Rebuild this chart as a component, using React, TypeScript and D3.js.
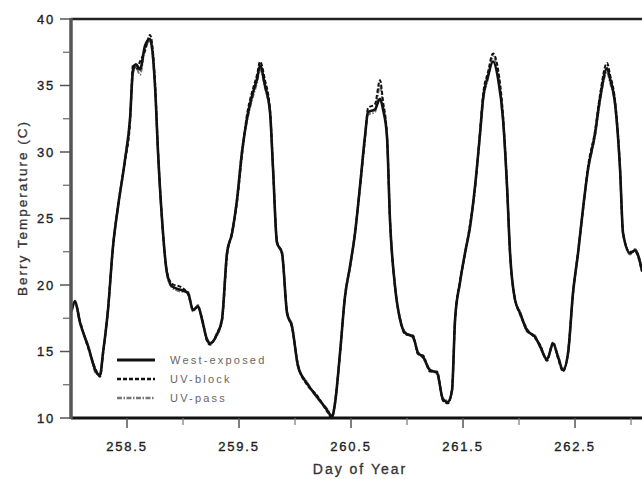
import React from "react";
import * as d3 from "d3";

// day of year (fractional) for each sample
const days = [
  258.006, 258.036, 258.08, 258.152, 258.229, 258.259, 258.286, 258.33, 258.375, 258.42,
  258.482, 258.527, 258.554, 258.58, 258.616, 258.661, 258.705, 258.75, 258.777, 258.813,
  258.857, 258.902, 258.991, 259.045, 259.089, 259.134, 259.17, 259.214, 259.241, 259.304,
  259.348, 259.393, 259.438, 259.482, 259.527, 259.571, 259.616, 259.661, 259.688, 259.732,
  259.777, 259.804, 259.839, 259.884, 259.929, 259.973, 260.027, 260.107, 260.196, 260.286,
  260.33, 260.357, 260.402, 260.446, 260.491, 260.536, 260.58, 260.625, 260.652, 260.714,
  260.759, 260.786, 260.821, 260.848, 260.893, 260.938, 260.982, 261.054, 261.098, 261.143,
  261.205, 261.268, 261.321, 261.366, 261.402, 261.429, 261.473, 261.518, 261.563, 261.607,
  261.652, 261.679, 261.723, 261.768, 261.813, 261.857, 261.893, 261.92, 261.964, 262.009,
  262.071, 262.143, 262.188, 262.25, 262.304, 262.348, 262.393, 262.438, 262.482, 262.527,
  262.571, 262.616, 262.679, 262.723, 262.786, 262.813, 262.857, 262.902, 262.929, 262.991,
  263.036, 263.098,
];

const westExposed = [
  18.1, 18.8, 17.2, 15.4, 13.4, 13.2, 14.9, 18.1, 22.9, 25.9,
  29.4, 32.5, 36.2, 36.6, 36.2, 38.0, 38.5, 35.0, 30.0, 24.9,
  20.9, 19.9, 19.6, 19.4, 18.1, 18.4, 17.4, 15.9, 15.6, 16.3,
  17.4, 22.4, 23.9, 26.4, 30.0, 32.5, 34.2, 35.5, 36.5, 35.0,
  33.0, 28.7, 23.2, 22.4, 17.9, 16.9, 13.9, 12.6, 11.6, 10.6,
  10.1, 11.1, 14.9, 19.1, 21.4, 23.9, 27.4, 31.2, 33.0, 33.2,
  34.0, 33.2, 31.2, 24.9, 19.9, 17.4, 16.4, 16.1, 14.9, 14.6,
  13.6, 13.4, 11.4, 11.2, 12.1, 17.4, 20.2, 22.4, 24.4, 27.4,
  31.4, 34.0, 35.7, 36.8, 35.5, 32.5, 27.4, 22.4, 18.9, 17.9,
  16.6, 16.1, 15.4, 14.4, 15.6, 14.6, 13.6, 14.9, 19.4, 22.4,
  25.7, 28.7, 31.4, 34.0, 36.3, 35.5, 33.7, 28.7, 23.9, 22.4,
  22.6, 21.1,
];

const uvBlock = [
  18.2, 18.7, 17.3, 15.3, 13.5, 13.1, 14.8, 18.2, 22.8, 26.0,
  29.3, 32.2, 36.6, 36.2, 36.8, 37.6, 38.8, 35.3, 30.1, 24.8,
  21.0, 20.1, 19.8, 19.3, 18.2, 18.3, 17.5, 15.8, 15.5, 16.4,
  17.3, 22.2, 24.0, 26.2, 29.8, 32.8, 34.5, 35.8, 36.8, 35.4,
  33.2, 28.8, 23.3, 22.3, 18.0, 16.8, 14.0, 12.5, 11.7, 10.5,
  10.0, 11.2, 14.8, 19.2, 21.3, 24.0, 27.3, 31.0, 33.3, 33.6,
  35.4, 33.8, 31.3, 25.0, 19.8, 17.5, 16.3, 16.2, 14.8, 14.7,
  13.5, 13.5, 11.3, 11.1, 12.2, 17.3, 20.3, 22.3, 24.6, 27.2,
  31.6, 34.3, 36.0, 37.4, 36.2, 32.8, 27.5, 22.3, 19.0, 17.8,
  16.7, 16.0, 15.5, 14.3, 15.7, 14.5, 13.5, 15.0, 19.3, 22.5,
  25.6, 28.9, 31.6, 34.3, 36.7, 35.8, 33.9, 28.8, 23.8, 22.5,
  22.5, 21.0,
];

const uvPass = [
  18.0, 18.6, 17.1, 15.5, 13.3, 13.3, 15.0, 18.0, 23.0, 25.8,
  29.5, 32.6, 35.9, 36.4, 35.8, 37.8, 38.3, 34.8, 29.8, 25.0,
  20.8, 19.8, 19.5, 19.5, 18.0, 18.5, 17.3, 16.0, 15.7, 16.2,
  17.5, 22.5, 23.8, 26.5, 30.2, 32.3, 33.9, 35.2, 36.2, 34.8,
  32.8, 28.6, 23.1, 22.5, 17.8, 17.0, 13.8, 12.7, 11.5, 10.7,
  10.2, 11.0, 15.0, 19.0, 21.5, 23.8, 27.5, 31.3, 32.8, 33.0,
  35.0, 33.5, 31.0, 24.8, 20.0, 17.3, 16.5, 16.0, 15.0, 14.5,
  13.7, 13.3, 11.5, 11.3, 12.0, 17.5, 20.1, 22.5, 24.3, 27.5,
  31.2, 33.8, 35.5, 37.2, 35.8, 32.3, 27.3, 22.5, 18.8, 18.0,
  16.5, 16.2, 15.3, 14.5, 15.5, 14.7, 13.7, 14.8, 19.5, 22.3,
  25.8, 28.6, 31.2, 33.8, 36.0, 35.2, 33.5, 28.6, 24.0, 22.3,
  22.7, 21.2,
];

const xMajorTicks = [258.5, 259.5, 260.5, 261.5, 262.5];
const xMinorTicks = [259, 260, 261, 262, 263];
const yMajorTicks = [10, 15, 20, 25, 30, 35, 40];
const yMinorTicks = [12.5, 17.5, 22.5, 27.5, 32.5, 37.5];

const seriesNames = ["West-exposed", "UV-block", "UV-pass"];

const W = 642;
const H = 479;
const left = 71, top = 19, bottom = 418;
const font = "'Liberation Sans', Arial, sans-serif";

export default function App() {
  const x = d3.scaleLinear().domain([258, 263.098]).range([left, W]);
  const y = d3.scaleLinear().domain([10, 40]).range([bottom, top]);

  const mk = (vals: number[]) =>
    d3.line<number>()
      .x((_, i) => x(days[i]))
      .y((d) => y(d))
      .curve(d3.curveMonotoneX)(vals) || "";

  const lineStyles = [
    { stroke: "#111", width: 2.6, dash: "none" },
    { stroke: "#111", width: 2, dash: "4,2" },
    { stroke: "#777", width: 2, dash: "5,1.5,1.5,1.5" },
  ];
  const paths = [mk(westExposed), mk(uvBlock), mk(uvPass)];

  const tickText = {
    fontFamily: font, fontSize: 13, fill: "#222", stroke: "#222", strokeWidth: 0.35, letterSpacing: 1.8,
  };

  return (
    <svg width={W} height={H} style={{ position: "absolute", left: 0, top: 0, background: "#fff" }}>
      <defs>
        <clipPath id="plot">
          <rect x={left} y={top} width={W - left} height={bottom - top} />
        </clipPath>
      </defs>
      <rect x={0} y={0} width={W} height={H} fill="#fff" />

      <g clipPath="url(#plot)">
        {[2, 1, 0].map((k) => (
          <path key={k} d={paths[k]} fill="none" stroke={lineStyles[k].stroke}
            strokeWidth={lineStyles[k].width} strokeDasharray={lineStyles[k].dash}
            strokeLinejoin="round" />
        ))}
      </g>

      {/* frame */}
      <line x1={left} x2={W} y1={top} y2={top} stroke="#222" strokeWidth={2.5} />
      <line x1={left} x2={W} y1={bottom} y2={bottom} stroke="#111" strokeWidth={3} />
      <line x1={left} x2={left} y1={top - 1} y2={bottom + 1} stroke="#555" strokeWidth={3.5} />

      {/* y ticks */}
      {yMajorTicks.map((t) => (
        <g key={"ym" + t}>
          <line x1={left - 11} x2={left} y1={y(t)} y2={y(t)} stroke="#555" strokeWidth={1.5} />
          <text x={55} y={y(t) + 4.5} textAnchor="end" {...tickText}>{t}</text>
        </g>
      ))}
      {yMinorTicks.map((t) => (
        <line key={"yn" + t} x1={left - 8} x2={left} y1={y(t)} y2={y(t)} stroke="#666" strokeWidth={1.2} />
      ))}

      {/* x ticks */}
      {xMajorTicks.map((t) => (
        <g key={"xm" + t}>
          <line x1={x(t)} x2={x(t)} y1={bottom} y2={bottom + 10} stroke="#555" strokeWidth={1.5} />
          <text x={x(t)} y={451} textAnchor="middle" {...tickText}>{t.toFixed(1)}</text>
        </g>
      ))}
      {xMinorTicks.map((t) => (
        <line key={"xn" + t} x1={x(t)} x2={x(t)} y1={bottom} y2={bottom + 7} stroke="#777" strokeWidth={1.2} />
      ))}

      {/* axis titles */}
      <text x={360} y={474} textAnchor="middle" fontFamily={font} fontSize={14} fill="#333"
        stroke="#333" strokeWidth={0.3} letterSpacing={2}>
        Day of Year
      </text>
      <text transform={`translate(27,208) rotate(-90)`} textAnchor="middle" fontFamily={font}
        fontSize={13.5} fill="#333" stroke="#333" strokeWidth={0.3} letterSpacing={2}>
        Berry Temperature (C)
      </text>

      {/* legend */}
      {seriesNames.map((name, i) => {
        const ly = 360 + i * 19;
        const s = lineStyles[i];
        return (
          <g key={name}>
            <line x1={117} x2={155} y1={ly} y2={ly} stroke={s.stroke}
              strokeWidth={i === 0 ? 3.2 : 2.6} strokeDasharray={s.dash} />
            <text x={170} y={ly + 4} fontFamily={font} fontSize={11} fill="#666" letterSpacing={2.2}>
              {name}
            </text>
          </g>
        );
      })}
    </svg>
  );
}
